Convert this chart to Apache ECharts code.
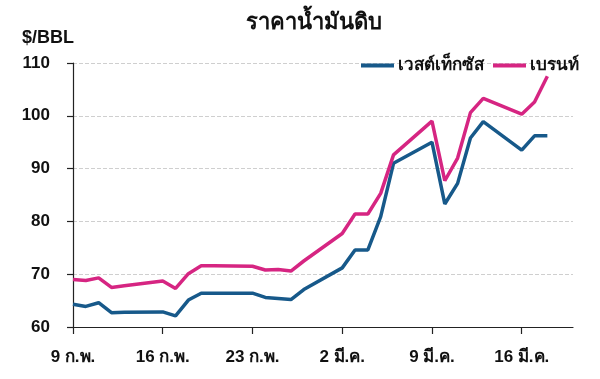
<!DOCTYPE html>
<html>
<head>
<meta charset="utf-8">
<script src="https://cdn.jsdelivr.net/npm/echarts@6/dist/echarts.min.js"></script>
<style>
html,body{margin:0;padding:0;background:#fff;}
#c{width:600px;height:379px;}
</style>
</head>
<body>
<div id="c"></div>
<script>
// Day offsets from 9 Feb (trading days)
var days = [0,1,2,3,4,7,8,9,10,11,14,15,16,17,18,21,22,23,24,25,28,29,30,31,32,35,36,37];
var wti =   [64.3,63.9,64.6,62.7,62.8,62.85,62.1,65.1,66.4,66.4,66.4,65.6,65.4,65.2,67.1,71.2,74.6,74.6,80.9,91.0,95.0,83.3,87.2,95.8,98.9,93.5,96.2,96.2];
var brent = [69.0,68.8,69.3,67.5,67.8,68.7,67.3,70.1,71.6,71.6,71.5,70.8,70.9,70.6,72.5,77.7,81.4,81.4,85.3,92.6,99.0,87.7,92.0,100.6,103.3,100.3,102.6,107.5];
var tickLabels = ['9 ก.พ.','16 ก.พ.','23 ก.พ.','2 มี.ค.','9 มี.ค.','16 มี.ค.'];
var seriesNames = ['เวสต์เท็กซัส','เบรนท์'];
var unitLabel = '$/BBL';

function pairs(vals){ return days.map(function(d,i){ return [d, vals[i]]; }); }

var chart = echarts.init(document.getElementById('c'), null, {renderer:'canvas'});
var font = '"Liberation Sans", Arial, sans-serif';
chart.setOption({
  animation: false,
  backgroundColor: '#ffffff',
  title: {
    text: 'ราคาน้ำมันดิบ',
    left: 241,
    top: 7,
    textStyle: {fontFamily: font, fontSize: 22, fontWeight: 'bold', color: '#111'}
  },
  graphic: [{
    type: 'text', left: 22, top: 29,
    style: {text: unitLabel, font: 'bold 18px ' + font, fill: '#111'}
  }],
  legend: {
    right: 16,
    top: 52,
    icon: 'rect',
    itemWidth: 33,
    itemHeight: 4,
    itemGap: 9,
    textStyle: {fontFamily: font, fontSize: 17, fontWeight: 'bold', color: '#111', padding: [0,0,0,-1]},
    data: seriesNames
  },
  grid: {left: 73, right: 27, top: 63, bottom: 52, containLabel: false},
  xAxis: {
    type: 'value',
    min: 0,
    max: 39,
    interval: 7,
    axisLine: {show: true, lineStyle: {color: '#222', width: 1.2}},
    axisTick: {show: true, length: 7, lineStyle: {color: '#222', width: 1.2}},
    splitLine: {show: false},
    axisLabel: {
      margin: 22,
      fontFamily: font, fontSize: 17, fontWeight: 'bold', color: '#111',
      showMaxLabel: false,
      formatter: function(v){ var i = Math.round(v/7); return (v % 7 === 0 && tickLabels[i]) ? tickLabels[i] : ''; }
    }
  },
  yAxis: {
    type: 'value',
    min: 60,
    max: 110,
    interval: 10,
    axisLine: {show: true, lineStyle: {color: '#222', width: 1.2}},
    axisTick: {show: true, inside: false, length: 6, lineStyle: {color: '#222', width: 1.2}},
    splitLine: {show: true, lineStyle: {color: '#cfcfcf', type: 'dashed', width: 1}},
    axisLabel: {margin: 23, fontFamily: font, fontSize: 17, fontWeight: 'bold', color: '#111'}
  },
  series: [
    {
      name: seriesNames[0], type: 'line', data: pairs(wti),
      showSymbol: false, symbol: 'none',
      lineStyle: {color: '#17598a', width: 3.5},
      itemStyle: {color: '#17598a'}
    },
    {
      name: seriesNames[1], type: 'line', data: pairs(brent),
      showSymbol: false, symbol: 'none',
      lineStyle: {color: '#d62582', width: 3.5},
      itemStyle: {color: '#d62582'}
    }
  ]
});
</script>
</body>
</html>
